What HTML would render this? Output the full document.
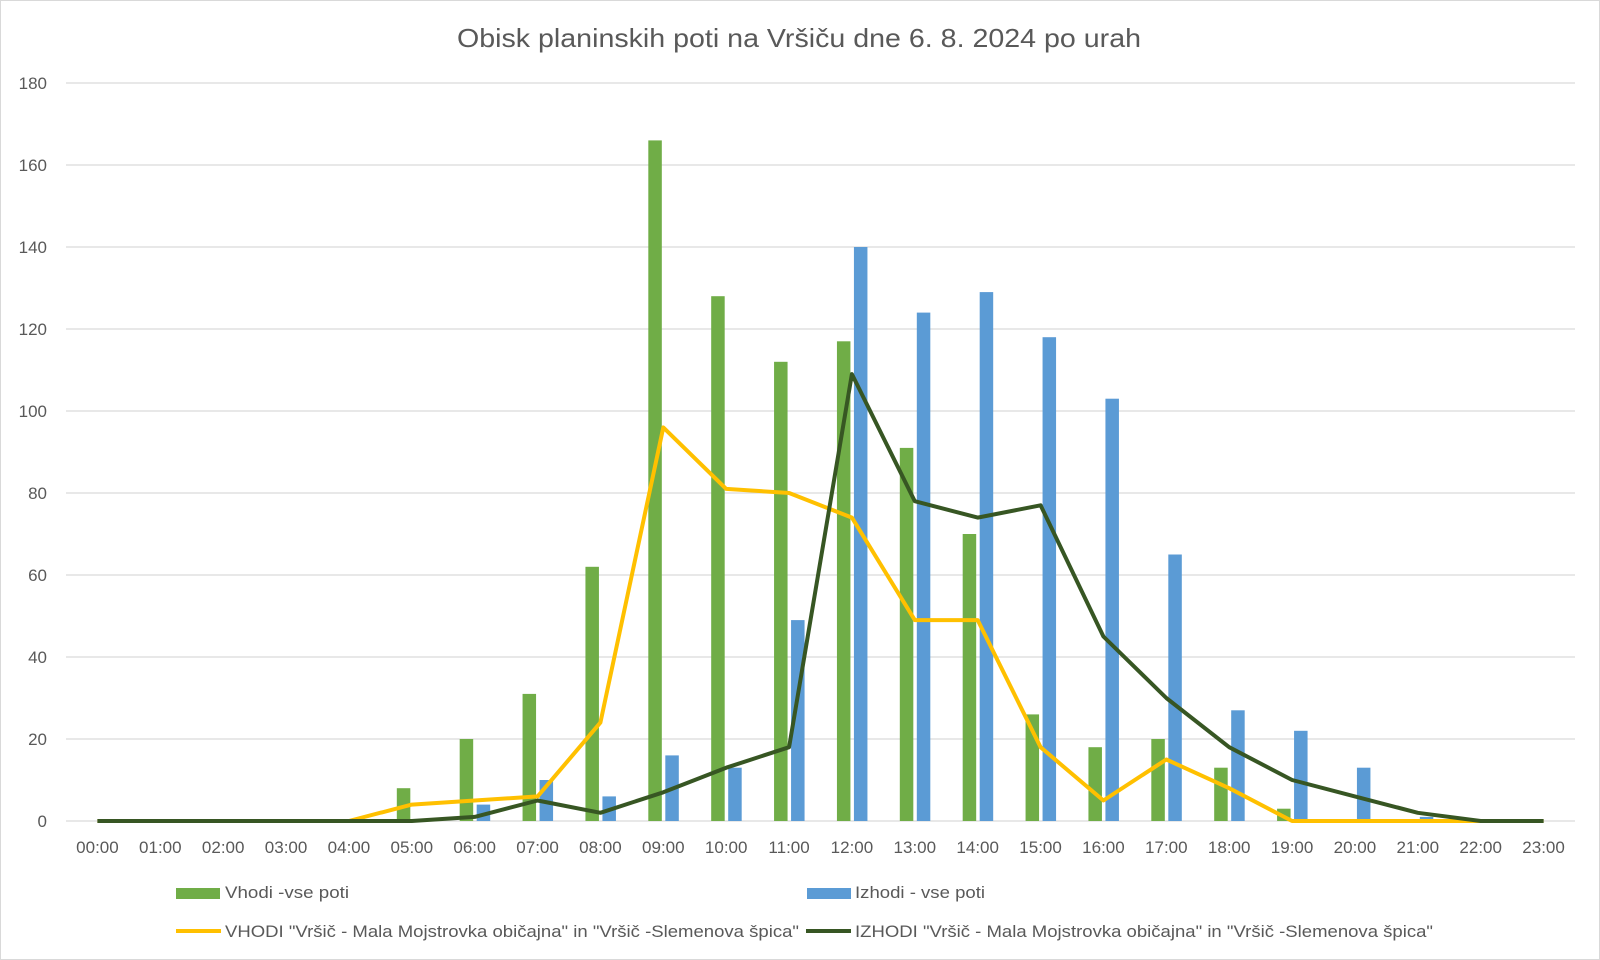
<!DOCTYPE html>
<html><head><meta charset="utf-8"><style>
html,body{margin:0;padding:0;background:#fff}
svg{display:block}
text{font-family:"Liberation Sans",sans-serif;fill:#595959}
</style></head><body>
<svg width="1600" height="960" viewBox="0 0 1600 960" xmlns="http://www.w3.org/2000/svg">
<rect x="0.5" y="0.5" width="1599" height="959" fill="#fff" stroke="#d9d9d9"/>
<text x="799" y="47" font-size="26" text-anchor="middle" textLength="684" lengthAdjust="spacingAndGlyphs">Obisk planinskih poti na Vršiču dne 6. 8. 2024 po urah</text>
<g id="chart"></g>
<rect x="176" y="888" width="44" height="11" fill="#70ad47"/>
<text x="225" y="898" font-size="17" textLength="124" lengthAdjust="spacingAndGlyphs">Vhodi -vse poti</text>
<rect x="807" y="888" width="44" height="11" fill="#5b9bd5"/>
<text x="855" y="898" font-size="17" textLength="130" lengthAdjust="spacingAndGlyphs">Izhodi - vse poti</text>
<line x1="176" y1="931" x2="221" y2="931" stroke="#ffc000" stroke-width="4"/>
<text x="225" y="937" font-size="17" textLength="574" lengthAdjust="spacingAndGlyphs">VHODI "Vršič - Mala Mojstrovka običajna" in "Vršič -Slemenova špica"</text>
<line x1="806" y1="931" x2="851" y2="931" stroke="#375623" stroke-width="4"/>
<text x="855" y="937" font-size="17" textLength="578" lengthAdjust="spacingAndGlyphs">IZHODI "Vršič - Mala Mojstrovka običajna" in "Vršič -Slemenova špica"</text>
</svg>
<script>
const g=document.getElementById('chart');const ns='http://www.w3.org/2000/svg';
function el(t,a,txt){const e=document.createElementNS(ns,t);for(const k in a)e.setAttribute(k,a[k]);if(txt!=null)e.textContent=txt;g.appendChild(e);return e;}
const x0=66,x1=1575,y0=821,k=4.1,cw=(x1-x0)/24;
for(let v=0;v<=180;v+=20){const y=y0-v*k;el('line',{x1:x0,x2:x1,y1:y,y2:y,stroke:'#d9d9d9','stroke-width':1.3});el('text',{x:47,y:y+6,'font-size':17,'text-anchor':'end'},v);}
const G=[0,0,0,0,0,8,20,31,62,166,128,112,117,91,70,26,18,20,13,3,0,0,0,0];
const B=[0,0,0,0,0,0,4,10,6,16,13,49,140,124,129,118,103,65,27,22,13,1,0,0];
const Y=[0,0,0,0,0,4,5,6,24,96,81,80,74,49,49,18,5,15,8,0,0,0,0,0];
const D=[0,0,0,0,0,0,1,5,2,7,13,18,109,78,74,77,45,30,18,10,6,2,0,0];
for(let i=0;i<24;i++){const c=x0+cw*(i+.5);
if(G[i])el('rect',{x:c-15,y:y0-G[i]*k,width:13.5,height:G[i]*k,fill:'#70ad47'});
if(B[i])el('rect',{x:c+2,y:y0-B[i]*k,width:13.5,height:B[i]*k,fill:'#5b9bd5'});
el('text',{x:c,y:853,'font-size':17,'text-anchor':'middle'},String(i).padStart(2,'0')+':00');}
function line(d,col){el('polyline',{points:d.map((v,i)=>(x0+cw*(i+.5)).toFixed(1)+','+(y0-v*k).toFixed(1)).join(' '),fill:'none',stroke:col,'stroke-width':4,'stroke-linejoin':'round'});}
line(Y,'#ffc000');line(D,'#375623');
</script>
</body></html>
